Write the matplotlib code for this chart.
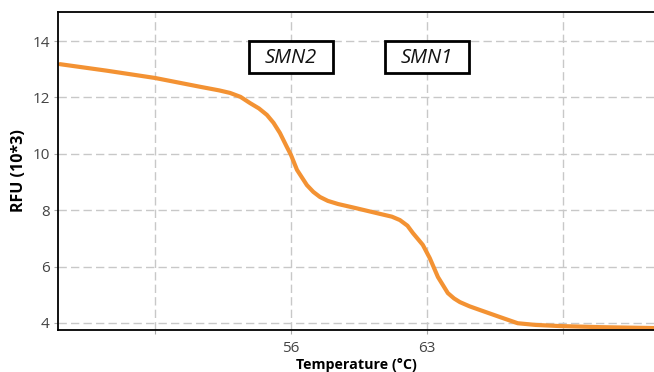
import numpy as np
import matplotlib.pyplot as plt
from matplotlib.patches import Rectangle

plt.rcParams['font.family'] = ['Open Sans', 'DejaVu Sans']

# melt curve
temp = [44.1, 46.5, 49.0, 51.3, 52.3, 52.86, 53.4, 53.89, 54.35, 54.76, 55.1, 55.43,
        55.79, 56.0, 56.31, 56.82, 57.15, 57.49, 57.9, 58.42, 59.3, 60.58, 61.2, 61.61,
        62.0, 62.28, 62.79, 63.15, 63.57, 64.08, 64.4, 64.7, 65.2, 65.73, 66.76, 67.68,
        68.6, 69.84, 72.0, 74.7]
rfu = [13.18, 12.95, 12.69, 12.38, 12.25, 12.16, 12.02, 11.80, 11.61, 11.38, 11.1, 10.74,
       10.24, 9.96, 9.43, 8.89, 8.65, 8.47, 8.33, 8.22, 8.08, 7.87, 7.77, 7.65,
       7.45, 7.19, 6.77, 6.30, 5.63, 5.06, 4.87, 4.74, 4.59, 4.46, 4.21, 3.99,
       3.93, 3.89, 3.85, 3.82]

labels = ['SMN2', 'SMN1']
label_x = [56, 63]
label_y = [13.43, 13.43]

xticks = [49, 56, 63, 70]
xtick_labels = ['', '56', '63', '']
yticks = [4, 6, 8, 10, 12, 14]


def main():
    fig = plt.figure(figsize=(6.54, 3.72), dpi=100)
    ax = fig.add_axes([0.0887, 0.1129, 0.9113, 0.8548])

    ax.plot(temp, rfu, color='#f39233', lw=3.0, solid_capstyle='round',
            solid_joinstyle='round')

    # boxed gene labels
    box_w, box_h = 4.3, 1.12
    for name, x, y in zip(labels, label_x, label_y):
        ax.add_patch(Rectangle((x - box_w / 2, y - box_h / 2), box_w, box_h,
                               fc='white', ec='black', lw=2, zorder=5))
        ax.text(x, y - 0.03, name, ha='center', va='center', fontsize=14.5,
                style='italic', color='#111111', zorder=6)

    ax.set_xlim(44, 74.7)
    ax.set_ylim(3.75, 15.03)
    ax.set_xticks(xticks)
    ax.set_xticklabels(xtick_labels)
    ax.set_yticks(yticks)
    ax.grid(True, color='#c8c8c8', ls=(0, (6, 3)), lw=1.0)
    ax.set_axisbelow(True)
    ax.tick_params(length=3, width=0.8, color='#aaaaaa', labelsize=11,
                   labelcolor='#444444', pad=3)
    ax.tick_params(axis='x', pad=5)

    for s in ['left', 'top', 'bottom']:
        ax.spines[s].set_linewidth(1.3)
    ax.spines['right'].set_visible(False)

    ax.set_xlabel('Temperature (°C)', fontsize=10.3, fontweight='bold', labelpad=1)
    ax.set_ylabel('RFU (10*3)', fontsize=11.5, fontweight='bold', labelpad=4)

    fig.savefig('out.png', dpi=100, facecolor='white')
    plt.close(fig)


if __name__ == "__main__":
    main()
